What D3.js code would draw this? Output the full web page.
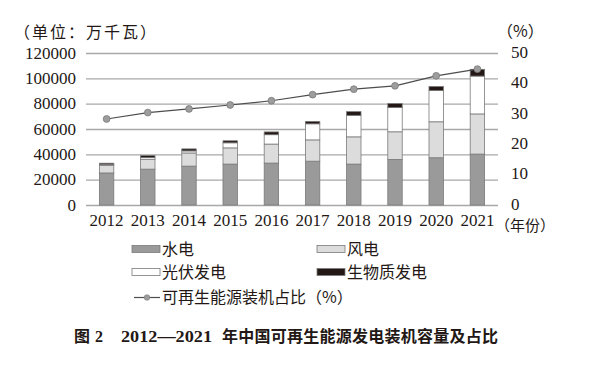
<!DOCTYPE html>
<html>
<head>
<meta charset="utf-8">
<script src="https://cdn.jsdelivr.net/npm/d3@7"></script>
<style>
  body { margin: 0; background: #fff; }
  svg { display: block; }
  .num { font-family: "Liberation Serif", "DejaVu Serif", serif; }
  .cjk { font-family: "Noto Sans CJK SC", sans-serif; }
</style>
</head>
<body>
<div id="chart"></div>
<script>
// data (unit: 10k kW, share in %)
var years = ["2012", "2013", "2014", "2015", "2016", "2017", "2018", "2019", "2020", "2021"];
var hydro = [25300, 28300, 30700, 32300, 33100, 34600, 32300, 36000, 37300, 40200];
var wind = [5900, 7800, 10400, 12800, 15000, 16800, 21500, 21800, 28400, 31700];
var solar = [800, 1300, 1600, 4000, 7400, 12700, 17000, 19100, 24700, 29900];
var biomass = [1000, 1600, 1600, 1600, 2200, 1900, 2900, 3200, 3200, 5300];
var share = [28.3, 30.4, 31.6, 32.9, 34.3, 36.3, 38.1, 39.2, 42.5, 44.7];
var leftTicks = [0, 20000, 40000, 60000, 80000, 100000, 120000];
var rightTicks = [0, 10, 20, 30, 40, 50];

var W = 601, H = 372;
var margin = { left: 86, right: 103, top: 53, bottom: 167 };
var ink = "#231815";

var svg = d3.select("#chart").append("svg")
  .attr("width", W)
  .attr("height", H);

var x = d3.scaleBand()
  .domain(years)
  .range([margin.left, W - margin.right])
  .paddingInner(0.65)
  .paddingOuter(0.325);

var y = d3.scaleLinear()
  .domain([0, 120000])
  .range([H - margin.bottom, margin.top]);

var y2 = d3.scaleLinear()
  .domain([0, 50])
  .range([H - margin.bottom, margin.top]);

// gridlines
svg.append("g")
  .selectAll("line")
  .data(leftTicks)
  .enter().append("line")
  .attr("x1", margin.left)
  .attr("x2", W - margin.right)
  .attr("y1", function(d) { return y(d) + 0.5; })
  .attr("y2", function(d) { return y(d) + 0.5; })
  .style("stroke", "#a8a8a8")
  .style("stroke-width", 1.3);

// left axis labels
svg.append("g")
  .selectAll("text")
  .data(leftTicks)
  .enter().append("text")
  .attr("class", "num")
  .attr("x", 76)
  .attr("y", function(d) { return y(d); })
  .attr("dy", "0.33em")
  .attr("text-anchor", "end")
  .style("font-size", "17px")
  .style("fill", ink)
  .text(function(d) { return d; });

// right axis labels
svg.append("g")
  .selectAll("text")
  .data(rightTicks)
  .enter().append("text")
  .attr("class", "num")
  .attr("x", 511)
  .attr("y", function(d) { return y2(d); })
  .attr("dy", "0.28em")
  .style("font-size", "17px")
  .style("fill", ink)
  .text(function(d) { return d; });

// x labels
svg.append("g")
  .selectAll("text")
  .data(years)
  .enter().append("text")
  .attr("class", "num")
  .attr("x", function(d) { return x(d) + x.bandwidth() / 2; })
  .attr("y", 226)
  .attr("text-anchor", "middle")
  .style("font-size", "17px")
  .style("fill", ink)
  .text(function(d) { return d; });

svg.append("text").attr("class", "cjk")
  .attr("x", 14).attr("y", 38)
  .style("font-size", "16px").style("letter-spacing", "2px").style("fill", ink)
  .text("（单位：万千瓦）");

svg.append("text").attr("class", "cjk")
  .attr("x", 497).attr("y", 37)
  .style("font-size", "16px").style("fill", ink)
  .text("（%）");

svg.append("text").attr("class", "cjk")
  .attr("x", 495).attr("y", 231)
  .style("font-size", "15px").style("fill", ink)
  .text("（年份）");

// stacked bars
var series = [
  { name: "水电", values: hydro, fill: "#9a9a9a" },
  { name: "风电", values: wind, fill: "#dcdcdc" },
  { name: "光伏发电", values: solar, fill: "#ffffff" },
  { name: "生物质发电", values: biomass, fill: ink }
];

var table = years.map(function(yr, i) {
  var row = { year: yr };
  series.forEach(function(s) { row[s.name] = s.values[i]; });
  return row;
});

var stack = d3.stack().keys(series.map(function(s) { return s.name; }));
var layers = stack(table);

svg.append("g")
  .selectAll("g")
  .data(layers)
  .enter().append("g")
  .style("fill", function(d, i) { return series[i].fill; })
  .selectAll("rect")
  .data(function(d) { return d; })
  .enter().append("rect")
  .attr("x", function(d) { return x(d.data.year); })
  .attr("width", x.bandwidth())
  .attr("y", function(d) { return y(d[1]); })
  .attr("height", function(d) { return y(d[0]) - y(d[1]); })
  .style("stroke", "#7a7a7a")
  .style("stroke-width", 0.8);

// share line
var line = d3.line()
  .x(function(d, i) { return x(years[i]) + x.bandwidth() / 2; })
  .y(function(d) { return y2(d); });

svg.append("path")
  .datum(share)
  .attr("d", line)
  .style("fill", "none")
  .style("stroke", "#4d4d4d")
  .style("stroke-width", 1.2);

svg.append("g")
  .selectAll("circle")
  .data(share)
  .enter().append("circle")
  .attr("cx", function(d, i) { return x(years[i]) + x.bandwidth() / 2; })
  .attr("cy", function(d) { return y2(d); })
  .attr("r", 3.4)
  .style("fill", "#9d9d9d")
  .style("stroke", "#7a7a7a")
  .style("stroke-width", 0.8);

// legend
var legendItems = [
  { name: "水电", fill: "#9a9a9a", lx: 132, ly: 249 },
  { name: "风电", fill: "#dcdcdc", lx: 317, ly: 249 },
  { name: "光伏发电", fill: "#ffffff", lx: 132, ly: 272 },
  { name: "生物质发电", fill: ink, lx: 317, ly: 272 }
];

var legend = svg.append("g");
legend.selectAll("rect")
  .data(legendItems)
  .enter().append("rect")
  .attr("x", function(d) { return d.lx; })
  .attr("y", function(d) { return d.ly - 3.5; })
  .attr("width", 28)
  .attr("height", 7)
  .style("fill", function(d) { return d.fill; })
  .style("stroke", "#7a7a7a")
  .style("stroke-width", 0.8);

legend.selectAll("text")
  .data(legendItems)
  .enter().append("text")
  .attr("class", "cjk")
  .attr("x", function(d) { return d.lx + 30; })
  .attr("y", function(d) { return d.ly; })
  .attr("dy", "0.36em")
  .style("font-size", "16px")
  .style("fill", ink)
  .text(function(d) { return d.name; });

legend.append("line")
  .attr("x1", 134).attr("x2", 160)
  .attr("y1", 297.5).attr("y2", 297.5)
  .style("stroke", "#4d4d4d").style("stroke-width", 1.2);
legend.append("circle")
  .attr("cx", 147).attr("cy", 297.5).attr("r", 2.8)
  .style("fill", "#9d9d9d").style("stroke", "#7a7a7a").style("stroke-width", 0.6);
legend.append("text").attr("class", "cjk")
  .attr("x", 162).attr("y", 297.5).attr("dy", "0.36em")
  .style("font-size", "16px").style("fill", ink)
  .text("可再生能源装机占比（%）");

// caption
var cap = svg.append("text")
  .attr("y", 336).attr("dy", "0.36em")
  .style("font-size", "16px").style("font-weight", "bold").style("fill", ink);
cap.append("tspan").attr("class", "cjk").attr("x", 74).text("图");
cap.append("tspan").attr("class", "num").attr("x", 95).text("2");
cap.append("tspan").attr("class", "num").attr("x", 121)
  .attr("textLength", 91).attr("lengthAdjust", "spacingAndGlyphs").text("2012—2021");
cap.append("tspan").attr("class", "cjk").attr("x", 222)
  .attr("textLength", 276).attr("lengthAdjust", "spacing").text("年中国可再生能源发电装机容量及占比");
</script>
</body>
</html>
